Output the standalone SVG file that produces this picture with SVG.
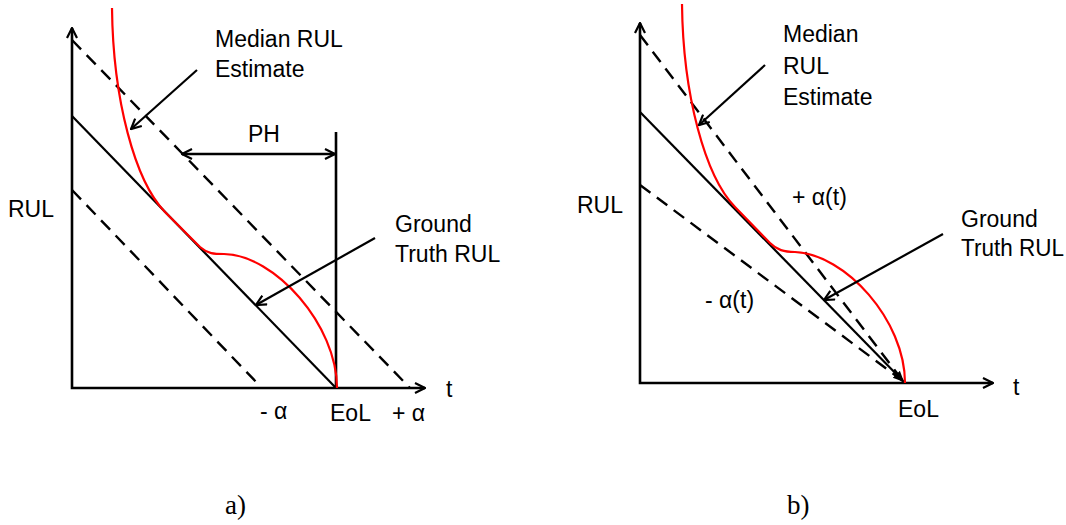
<svg xmlns="http://www.w3.org/2000/svg" width="1066" height="525" viewBox="0 0 1066 525">
<defs>
<style>
.ax{stroke:#000;stroke-width:2.6;fill:none}
.ln{stroke:#000;stroke-width:2.2;fill:none}
.ds{stroke:#000;stroke-width:2.4;fill:none;stroke-dasharray:13 8}
.rd{stroke:#ff0000;stroke-width:2.2;fill:none}
.tx{font-family:"Liberation Sans",Arial,sans-serif;font-size:23px;fill:#000}
.lb{font-family:"Liberation Serif","Times New Roman",serif;font-size:27px;fill:#000}
</style>
<marker id="open" viewBox="0 0 12 12" refX="11" refY="6" markerWidth="12" markerHeight="12" markerUnits="userSpaceOnUse" orient="auto-start-reverse">
<path d="M1,1 L11,6 L1,11" fill="none" stroke="#000" stroke-width="2.2"/>
</marker>
<marker id="fill" viewBox="0 0 12 12" refX="11" refY="6" markerWidth="12" markerHeight="12" markerUnits="userSpaceOnUse" orient="auto">
<path d="M0,1 L11,6 L0,11 Z" fill="#000" stroke="none"/>
</marker>
</defs>
<rect width="1066" height="525" fill="#fff"/>

<g id="panel-a">
<g id="a-axes">
<path class="ax" d="M72,28 L72,388 L425,388" marker-start="url(#open)" marker-end="url(#open)"/>
</g>
<g id="a-bounds">
<path class="ds" d="M72,40 L410,388"/>
<path class="ds" d="M72,190 L260,386"/>
</g>
<g id="a-truth"><path class="ln" d="M72,116 L336,388"/></g>
<g id="a-eol"><path class="ax" d="M336,132 L336,388"/></g>
<g id="a-median"><path class="rd" d="M112,8 C113,100 135,181 165,212 L200,247 C208,254 214,254 224,254 C275,255 337,325 337,388"/></g>
<g id="a-connectors">
<path class="ax" d="M182,154 L335,154" marker-start="url(#open)" marker-end="url(#open)"/>
<path class="ln" d="M197,70 L131,129" marker-end="url(#open)"/>
<path class="ln" d="M375,238 L256,305" marker-end="url(#open)"/>
</g>
<g id="a-labels">
<text class="tx" x="215" y="47">Median RUL</text>
<text class="tx" x="215" y="77">Estimate</text>
<text class="tx" x="248" y="142">PH</text>
<text class="tx" x="8" y="217">RUL</text>
<text class="tx" x="395" y="232">Ground</text>
<text class="tx" x="395" y="262">Truth RUL</text>
<text class="tx" x="446" y="397">t</text>
<text class="tx" x="260" y="419">- α</text>
<text class="tx" x="330" y="421">EoL</text>
<text class="tx" x="392" y="421">+ α</text>
<text class="lb" x="225" y="514">a)</text>
</g>
</g>

<g id="panel-b">
<g id="b-axes">
<path class="ax" d="M640,23 L640,383 L993,383" marker-start="url(#open)" marker-end="url(#open)"/>
</g>
<g id="b-bounds">
<path class="ds" d="M640,35 L903,381"/>
<path class="ds" d="M640,185 L903,381"/>
</g>
<g id="b-truth"><path class="ln" d="M640,112 L904,382" marker-end="url(#fill)"/></g>
<g id="b-median"><path class="rd" d="M682,4 C683,95 705,176 735,207 L770,243 C777,250 784,252 795,252 C845,254 905,320 905,383"/></g>
<g id="b-connectors">
<path class="ln" d="M765,65 L699,125" marker-end="url(#open)"/>
<path class="ln" d="M943,234 L824,300" marker-end="url(#open)"/>
</g>
<g id="b-labels">
<text class="tx" x="783" y="42">Median</text>
<text class="tx" x="783" y="74">RUL</text>
<text class="tx" x="783" y="105">Estimate</text>
<text class="tx" x="577" y="213">RUL</text>
<text class="tx" x="792" y="205">+ α(t)</text>
<text class="tx" x="705" y="308">- α(t)</text>
<text class="tx" x="961" y="227">Ground</text>
<text class="tx" x="961" y="256" textLength="103" lengthAdjust="spacingAndGlyphs">Truth RUL</text>
<text class="tx" x="1013" y="395">t</text>
<text class="tx" x="898" y="417">EoL</text>
<text class="lb" x="787" y="514">b)</text>
</g>
</g>
</svg>
